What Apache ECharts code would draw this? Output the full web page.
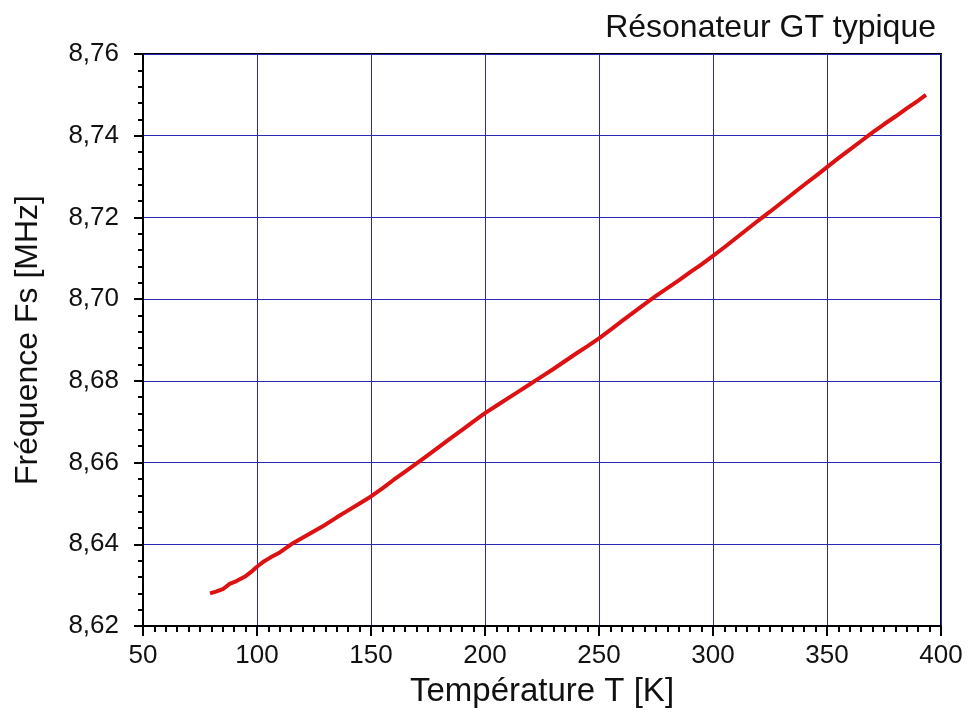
<!DOCTYPE html>
<html>
<head>
<meta charset="utf-8">
<script src="https://cdn.jsdelivr.net/npm/echarts@6/dist/echarts.min.js"></script>
<style>
html,body{margin:0;padding:0;background:#fff;}
#chart{width:969px;height:713px;}
</style>
</head>
<body>
<div id="chart"></div>
<script>
var titleText = 'Résonateur GT typique';
var xName = 'Température T [K]';
var yName = 'Fréquence Fs [MHz]';
var temperature = [79.4, 82, 85, 88, 91, 95, 98, 100, 103, 106, 110, 115, 120, 125, 130, 135, 140, 145, 150, 155, 160, 165, 170, 175, 180, 185, 190, 195, 200, 205, 210, 215, 220, 225, 230, 235, 240, 245, 250, 255, 260, 265, 270, 275, 280, 285, 290, 295, 300, 305, 310, 315, 320, 325, 330, 335, 340, 345, 350, 355, 360, 365, 370, 375, 380, 385, 390, 393.4];
var frequency = [8.6280, 8.6284, 8.6290, 8.6303, 8.6310, 8.6322, 8.6335, 8.6345, 8.6358, 8.6368, 8.6380, 8.6400, 8.6416, 8.6432, 8.6448, 8.6466, 8.6483, 8.6500, 8.6517, 8.6537, 8.6558, 8.6578, 8.6598, 8.6618, 8.6639, 8.6660, 8.6680, 8.6701, 8.6721, 8.6739, 8.6757, 8.6775, 8.6793, 8.6811, 8.6829, 8.6848, 8.6867, 8.6885, 8.6904, 8.6925, 8.6946, 8.6967, 8.6988, 8.7008, 8.7027, 8.7046, 8.7066, 8.7085, 8.7106, 8.7127, 8.7149, 8.7171, 8.7193, 8.7214, 8.7236, 8.7258, 8.7280, 8.7301, 8.7323, 8.7345, 8.7366, 8.7387, 8.7408, 8.7428, 8.7447, 8.7467, 8.7486, 8.7500];

var data = temperature.map(function (t, i) { return [t, frequency[i]]; });
var font = 'Liberation Sans, Arial, sans-serif';
var gridColor = '#2a2ab4';
var chart = echarts.init(document.getElementById('chart'), null, {renderer: 'canvas'});
chart.setOption({
  backgroundColor: '#fff',
  animation: false,
  title: {
    text: titleText, right: 28, top: 7,
    textStyle: {fontFamily: font, fontSize: 32, fontWeight: 'normal', color: '#111'}
  },
  grid: {left: 143, right: 28, top: 54, bottom: 87, show: true, borderColor: '#000', borderWidth: 2},
  xAxis: {
    type: 'value', min: 50, max: 400, interval: 50,
    name: xName, nameLocation: 'middle', nameGap: 49,
    nameTextStyle: {fontFamily: font, fontSize: 33, color: '#111'},
    axisLine: {show: true, onZero: false, lineStyle: {color: '#000', width: 2}},
    axisTick: {show: true, inside: false, length: 10, lineStyle: {color: '#000', width: 2}},
    minorTick: {show: true, splitNumber: 10, length: 6, lineStyle: {color: '#000', width: 2}},
    axisLabel: {fontFamily: font, fontSize: 26, color: '#111', margin: 17},
    splitLine: {show: true, lineStyle: {color: gridColor, width: 1}}
  },
  yAxis: {
    type: 'value', min: 8.62, max: 8.76, interval: 0.02,
    name: yName, nameLocation: 'middle', nameGap: 99,
    nameTextStyle: {fontFamily: font, fontSize: 32, color: '#111'},
    axisLine: {show: true, onZero: false, lineStyle: {color: '#000', width: 2}},
    axisTick: {show: true, inside: false, length: 9, lineStyle: {color: '#000', width: 2}},
    minorTick: {show: true, splitNumber: 5, length: 5, lineStyle: {color: '#000', width: 2}},
    axisLabel: {fontFamily: font, fontSize: 26, color: '#111', margin: 24,
      formatter: function (v) { return v.toFixed(2).replace('.', ','); }},
    splitLine: {show: true, lineStyle: {color: gridColor, width: 1}}
  },
  series: [{
    type: 'line', data: data, showSymbol: false, smooth: false,
    lineStyle: {color: '#dd1111', width: 4}
  }]
});
</script>
</body>
</html>
